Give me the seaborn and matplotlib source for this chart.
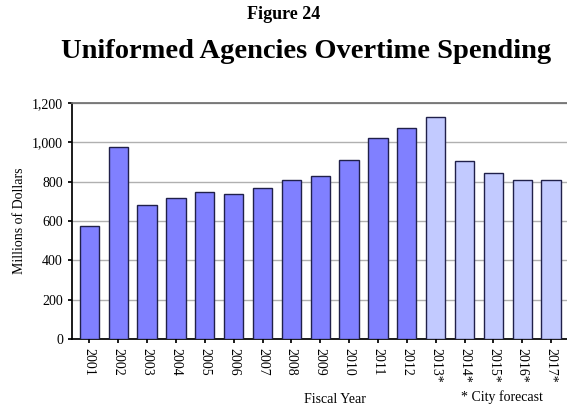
import pandas as pd
import matplotlib.pyplot as plt
import seaborn as sns

# Datos (millones de dólares)
years = ["2001", "2002", "2003", "2004", "2005", "2006", "2007", "2008", "2009",
         "2010", "2011", "2012", "2013*", "2014*", "2015*", "2016*", "2017*"]
spending = [573, 975, 683, 715, 746, 736, 766, 810, 827,
            910, 1020, 1071, 1130, 903, 844, 808, 808]
kind = ["actual"] * 12 + ["forecast"] * 5

df = pd.DataFrame({"year": years, "spending": spending, "kind": kind})

sns.set_theme(style="white")
plt.rcParams["font.family"] = ["Liberation Serif", "DejaVu Serif"]
plt.rcParams["text.color"] = "black"
plt.rcParams["axes.labelcolor"] = "black"
plt.rcParams["xtick.color"] = "black"
plt.rcParams["ytick.color"] = "black"

fig = plt.figure(figsize=(5.67, 4.12), dpi=100)
ax = fig.add_axes([0.127, 0.177, 0.873, 0.573])

sns.barplot(data=df, x="year", y="spending", hue="kind",
            palette={"actual": "#8080ff", "forecast": "#c2caff"},
            saturation=1, width=0.67, edgecolor="#20204a", linewidth=1.0,
            dodge=False, legend=False, ax=ax, zorder=3)

ax.set_ylim(0, 1200)
ax.set_yticks(range(0, 1201, 200))
ax.set_yticklabels([f"{v:,}" for v in range(0, 1201, 200)], fontsize=10)
ax.set_xlim(-0.6, len(years) - 0.45)
ax.yaxis.grid(True, color="#b0b0b0", linewidth=1, zorder=0)
ax.tick_params(axis="x", rotation=270, labelsize=10, length=3, direction="out", bottom=True, color="black")
ax.tick_params(axis="y", length=3, direction="out", left=True, color="black")
for t in ax.get_xticklabels():
    t.set_va("top")

ax.spines["right"].set_visible(False)
ax.spines["top"].set_color("#707070")
ax.spines["left"].set_color("black")
ax.spines["bottom"].set_color("black")

ax.set_xlabel("")
ax.set_ylabel("Millions of Dollars", fontsize=10)
fig.text(0.59, 0.015, "Fiscal Year", ha="center", va="bottom", fontsize=10)
fig.text(0.885, 0.02, "* City forecast", ha="center", va="bottom", fontsize=10)

fig.text(0.5, 0.965, "Figure 24", ha="center", va="center", fontsize=13, fontweight="bold")
fig.text(0.54, 0.875, "Uniformed Agencies Overtime Spending", ha="center", va="center",
         fontsize=20.5, fontweight="bold")

plt.savefig("out.png", dpi=100)
